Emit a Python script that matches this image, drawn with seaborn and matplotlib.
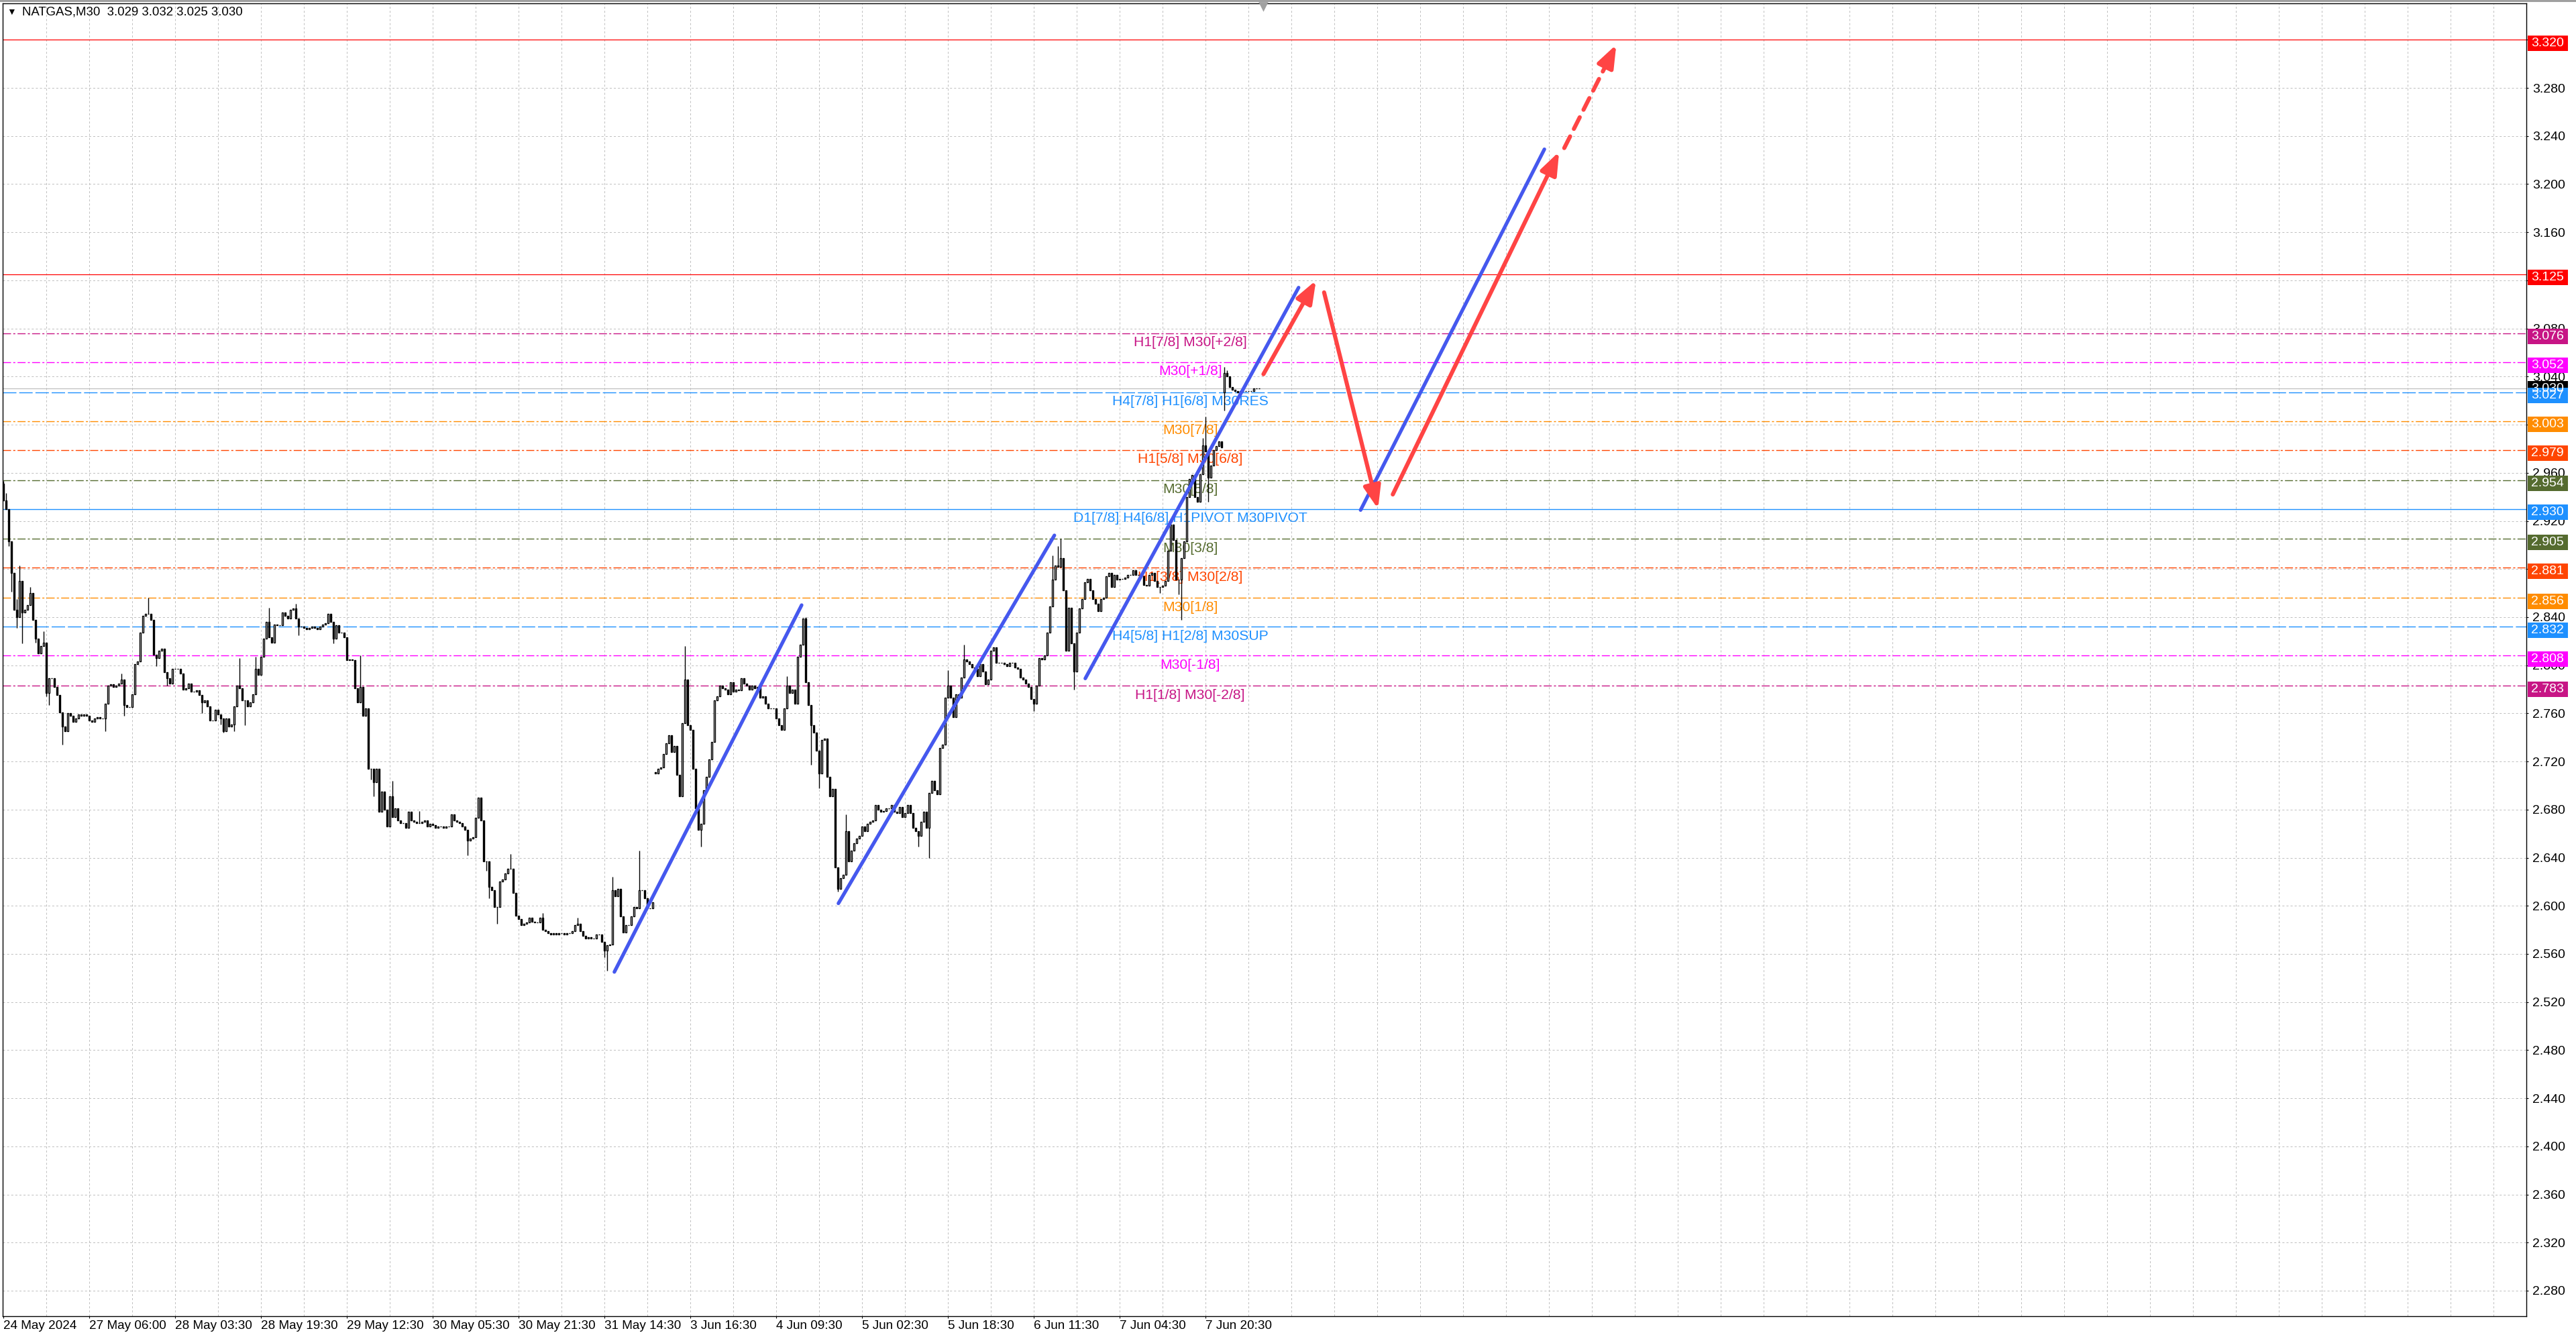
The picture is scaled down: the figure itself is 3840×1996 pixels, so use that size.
import numpy as np
import seaborn as sns
import matplotlib.pyplot as plt
import matplotlib.transforms as mtransforms
from matplotlib.patches import Rectangle

# NATGAS M30 closes, one value per bar (bar 0 = 24 May 2024)
closes = [
    2.937, 2.930, 2.903, 2.877, 2.846, 2.840, 2.870, 2.844, 2.846, 2.850,
    2.860, 2.838, 2.822, 2.810, 2.816, 2.819, 2.777, 2.789, 2.789, 2.782,
    2.775, 2.761, 2.749, 2.745, 2.760, 2.758, 2.753, 2.756, 2.759, 2.758,
    2.759, 2.758, 2.754, 2.753, 2.756, 2.757, 2.756, 2.756, 2.768, 2.783,
    2.784, 2.782, 2.783, 2.785, 2.788, 2.767, 2.765, 2.765, 2.776, 2.801,
    2.803, 2.827, 2.841, 2.843, 2.843, 2.838, 2.809, 2.806, 2.812, 2.814,
    2.794, 2.789, 2.785, 2.797, 2.797, 2.797, 2.793, 2.780, 2.781, 2.785,
    2.778, 2.778, 2.779, 2.775, 2.769, 2.771, 2.766, 2.754, 2.754, 2.763,
    2.759, 2.756, 2.745, 2.756, 2.749, 2.751, 2.766, 2.783, 2.781, 2.771,
    2.771, 2.766, 2.769, 2.776, 2.797, 2.792, 2.807, 2.822, 2.836, 2.823,
    2.819, 2.834, 2.833, 2.833, 2.844, 2.841, 2.839, 2.846, 2.847, 2.839,
    2.832, 2.832, 2.831, 2.830, 2.831, 2.832, 2.831, 2.830, 2.832, 2.834,
    2.835, 2.843, 2.836, 2.822, 2.833, 2.827, 2.827, 2.823, 2.804, 2.805,
    2.804, 2.781, 2.769, 2.782, 2.758, 2.764, 2.714, 2.714, 2.703, 2.714,
    2.678, 2.695, 2.680, 2.666, 2.691, 2.674, 2.681, 2.671, 2.669, 2.669,
    2.665, 2.678, 2.671, 2.670, 2.669, 2.669, 2.670, 2.671, 2.666, 2.668,
    2.667, 2.665, 2.666, 2.666, 2.665, 2.666, 2.666, 2.676, 2.671, 2.670,
    2.669, 2.666, 2.663, 2.654, 2.656, 2.657, 2.673, 2.690, 2.671, 2.637,
    2.637, 2.616, 2.613, 2.599, 2.599, 2.620, 2.622, 2.627, 2.631, 2.631,
    2.611, 2.592, 2.589, 2.584, 2.585, 2.586, 2.590, 2.587, 2.586, 2.586,
    2.590, 2.580, 2.579, 2.577, 2.576, 2.577, 2.576, 2.577, 2.577, 2.576,
    2.577, 2.577, 2.579, 2.584, 2.585, 2.579, 2.575, 2.573, 2.574, 2.573,
    2.573, 2.576, 2.576, 2.570, 2.563, 2.567, 2.568, 2.613, 2.608, 2.614,
    2.591, 2.578, 2.584, 2.584, 2.591, 2.599, 2.598, 2.613, 2.613, 2.606,
    2.598, 2.598, 2.603, 2.710, 2.714, 2.715, 2.726, 2.735, 2.742, 2.728,
    2.733, 2.709, 2.691, 2.752, 2.788, 2.750, 2.746, 2.714, 2.681, 2.663,
    2.668, 2.696, 2.707, 2.722, 2.736, 2.771, 2.774, 2.783, 2.781, 2.780,
    2.776, 2.786, 2.778, 2.780, 2.779, 2.789, 2.785, 2.783, 2.780, 2.783,
    2.781, 2.782, 2.773, 2.774, 2.768, 2.764, 2.764, 2.764, 2.756, 2.750,
    2.746, 2.764, 2.783, 2.777, 2.780, 2.768, 2.807, 2.817, 2.839, 2.786,
    2.767, 2.750, 2.744, 2.729, 2.710, 2.738, 2.739, 2.707, 2.691, 2.697,
    2.632, 2.614, 2.623, 2.626, 2.662, 2.637, 2.646, 2.652, 2.656, 2.658,
    2.666, 2.662, 2.668, 2.670, 2.671, 2.684, 2.680, 2.678, 2.679, 2.681,
    2.681, 2.684, 2.678, 2.677, 2.682, 2.674, 2.677, 2.684, 2.677, 2.665,
    2.662, 2.658, 2.670, 2.678, 2.665, 2.694, 2.704, 2.696, 2.693, 2.731,
    2.734, 2.773, 2.783, 2.773, 2.757, 2.776, 2.773, 2.790, 2.805, 2.803,
    2.801, 2.798, 2.797, 2.791, 2.801, 2.795, 2.784, 2.788, 2.812, 2.815,
    2.802, 2.802, 2.802, 2.801, 2.799, 2.802, 2.802, 2.798, 2.797, 2.790,
    2.788, 2.785, 2.782, 2.772, 2.768, 2.783, 2.806, 2.805, 2.808, 2.827,
    2.849, 2.871, 2.883, 2.882, 2.889, 2.862, 2.812, 2.848, 2.818, 2.795,
    2.827, 2.847, 2.855, 2.869, 2.872, 2.862, 2.855, 2.851, 2.845, 2.855,
    2.856, 2.874, 2.877, 2.865, 2.875, 2.871, 2.872, 2.872, 2.873, 2.875,
    2.875, 2.879, 2.875, 2.875, 2.874, 2.867, 2.866, 2.875, 2.877, 2.870,
    2.865, 2.865, 2.866, 2.870, 2.895, 2.917, 2.904, 2.871, 2.871, 2.889,
    2.903, 2.940, 2.955, 2.958, 2.940, 2.936, 2.959, 2.983, 2.978, 2.956,
    2.966, 2.979, 2.982, 2.986, 2.981, 3.043, 3.040, 3.031, 3.029, 3.028,
    3.027, 3.028, 3.028, 3.028, 3.028, 3.028, 3.030, 3.030, 3.030,
]
first_open = 2.951
gap_opens = {243: 2.711, 455: 3.027}
wick_highs = {0: 2.953, 1: 2.943, 5: 2.855, 6: 2.883, 10: 2.865, 15: 2.828,
              44: 2.793, 54: 2.856, 88: 2.806, 94: 2.807, 99: 2.848, 109: 2.851,
              133: 2.808, 145: 2.704, 155: 2.679, 189: 2.643, 201: 2.594,
              214: 2.590, 227: 2.624, 237: 2.646, 254: 2.816, 292: 2.791,
              299: 2.840, 314: 2.676, 352: 2.796, 358: 2.817, 391: 2.891,
              393: 2.899, 394: 2.905, 447: 2.989, 448: 3.007, 455: 3.048,
              456: 3.045}
wick_lows = {2: 2.899, 3: 2.861, 5: 2.831, 7: 2.818, 12: 2.819, 16: 2.774,
             17: 2.767, 22: 2.734, 38: 2.745, 45: 2.758, 57: 2.799, 61: 2.783,
             74: 2.760, 81: 2.751, 82: 2.744, 86: 2.745, 90: 2.750, 110: 2.825,
             123: 2.818, 137: 2.705, 138: 2.691, 173: 2.642, 180: 2.629,
             181: 2.606, 184: 2.585, 224: 2.557, 225: 2.546, 260: 2.649,
             301: 2.717, 304: 2.698, 311: 2.612, 341: 2.649, 345: 2.640,
             384: 2.762, 399: 2.780, 431: 2.860, 438: 2.859, 439: 2.838,
             449: 2.936, 455: 3.012}

tick_bars = list(range(0, 449, 32))
tick_labels = ["24 May 2024", "27 May 06:00", "28 May 03:30", "28 May 19:30",
               "29 May 12:30", "30 May 05:30", "30 May 21:30", "31 May 14:30",
               "3 Jun 16:30", "4 Jun 09:30", "5 Jun 02:30", "5 Jun 18:30",
               "6 Jun 11:30", "7 Jun 04:30", "7 Jun 20:30"]

# Murrey levels
level_prices = [3.076, 3.052, 3.027, 3.003, 2.979, 2.954, 2.930,
                2.905, 2.881, 2.856, 2.832, 2.808, 2.783]
level_names = ["H1[7/8] M30[+2/8]", "M30[+1/8]", "H4[7/8] H1[6/8] M30RES",
               "M30[7/8]", "H1[5/8] M30[6/8]", "M30[5/8]",
               "D1[7/8] H4[6/8] H1PIVOT M30PIVOT", "M30[3/8]",
               "H1[3/8] M30[2/8]", "M30[1/8]", "H4[5/8] H1[2/8] M30SUP",
               "M30[-1/8]", "H1[1/8] M30[-2/8]"]
level_colors = ["#C71585", "#FF00FF", "#1E90FF", "#FF8C00", "#FF4500", "#556B2F",
                "#1E90FF", "#556B2F", "#FF4500", "#FF8C00", "#1E90FF", "#FF00FF",
                "#C71585"]
level_kinds = ["dd", "dd", "dash", "dd", "dd", "dd", "solid",
               "dd", "dd", "dd", "dash", "dd", "dd"]
target_levels = [3.320, 3.125]
last_price = 3.030
title = "NATGAS,M30  3.029 3.032 3.025 3.030"

# forecast drawings (bar, price)
blue_lines = [((227.7, 2.545), (297.5, 2.850)),
              ((311.2, 2.602), (391.7, 2.908)),
              ((403.2, 2.789), (482.7, 3.114)),
              ((505.8, 2.929), (574.3, 3.229))]
red_arrows = [((469.6, 3.042), (489.2, 3.120)),
              ((492.2, 3.110), (512.3, 2.930)),
              ((517.8, 2.942), (579.8, 3.227))]
red_dashed_arrow = ((581.7, 3.230), (601.1, 3.316))

BLUE = "#4558EE"
RED = "#FF4444"
GRID = "#C0C0C0"

sns.set_theme(style="white")
plt.rcParams["font.family"] = ["Liberation Sans", "DejaVu Sans"]
plt.rcParams["lines.scale_dashes"] = False

W, H = 3840, 1996
fig = plt.figure(figsize=(W / 200, H / 200), dpi=200)
fig.patch.set_facecolor("white")
ax = fig.add_axes([4 / W, 34 / H, (3766 - 4) / W, (1962 - 5) / H])
ax.set_facecolor("white")
ax.set_xlim(-0.25, 940.25)
ax.set_ylim(2.2588, 3.3503)

# grid
yticks = np.round(np.arange(2.28, 3.3201, 0.04), 3)
ax.vlines(range(16, 941, 16), 2.2588, 3.3503, color=GRID, lw=0.36,
          linestyles=[(0, (1.1, 1.1))], zorder=0.5)
ax.hlines(yticks, -0.25, 940.25, color=GRID, lw=0.36,
          linestyles=[(0, (1.1, 1.1))], zorder=0.5)

# levels
styles = {"dd": (0, (4.3, 1.2, 1.1, 1.2)), "dash": (0, (7.2, 1.5)), "solid": "-"}
for p, name, col, kind in zip(level_prices, level_names, level_colors, level_kinds):
    ax.axhline(p, color=col, lw=0.5, linestyle=styles[kind], zorder=1)
    ax.annotate(name, xy=(442.3, p), xytext=(0, -1.6), textcoords="offset points",
                ha="center", va="top", color=col, fontsize=7.6, zorder=1.5)
for p in target_levels:
    ax.axhline(p, color="#FF0000", lw=0.45, zorder=1)
ax.axhline(last_price, color="#C0C0C0", lw=0.45, zorder=1)

# candles
c = np.array(closes)
n = len(c)
bars = np.arange(n)
o = np.r_[first_open, c[:-1]]
for k, v in gap_opens.items():
    o[k] = v
hi = np.maximum(o, c)
lo = np.minimum(o, c)
for k, v in wick_highs.items():
    hi[k] = max(hi[k], v)
for k, v in wick_lows.items():
    lo[k] = min(lo[k], v)
up = c >= o
ax.vlines(bars, lo, hi, color="black", lw=0.5, zorder=3)
ax.bar(bars[up], (c - o)[up], bottom=o[up], width=0.62, color="white",
       edgecolor="black", lw=0.5, zorder=3.2)
ax.bar(bars[~up], (c - o)[~up], bottom=o[~up], width=0.62, color="black",
       edgecolor="black", lw=0.5, zorder=3.2)

# forecast lines and arrows
for (x0, y0), (x1, y1) in blue_lines:
    sns.lineplot(x=[x0, x1], y=[y0, y1], ax=ax, color=BLUE, lw=1.9,
                 solid_capstyle="round", zorder=4)
arrow_style = "-|>,head_length=0.85,head_width=0.32"
for (x0, y0), (x1, y1) in red_arrows:
    ax.annotate("", xy=(x1, y1), xytext=(x0, y0), zorder=5,
                arrowprops=dict(arrowstyle=arrow_style, color=RED, lw=2.2,
                                shrinkA=0, shrinkB=0, capstyle="round"))
(dx0, dy0), (dx1, dy1) = red_dashed_arrow
mx, my = dx0 + 0.8 * (dx1 - dx0), dy0 + 0.8 * (dy1 - dy0)
ax.plot([dx0, mx], [dy0, my], color=RED, lw=2.2, linestyle=(0, (7, 4.5)),
        dash_capstyle="round", zorder=5)
hx, hy = dx0 + 0.88 * (dx1 - dx0), dy0 + 0.88 * (dy1 - dy0)
ax.annotate("", xy=(dx1, dy1), xytext=(hx, hy), zorder=5,
            arrowprops=dict(arrowstyle=arrow_style, color=RED, lw=2.2,
                            shrinkA=0, shrinkB=0))

# axes styling
for s in ax.spines.values():
    s.set_color("black")
    s.set_linewidth(0.5)
ax.yaxis.tick_right()
ax.set_yticks(yticks)
ax.set_yticklabels([f"{v:.3f}" for v in yticks])
ax.tick_params(axis="y", direction="out", length=1.2, width=0.4, pad=2.2,
               labelsize=7, colors="black", right=True, left=False)
ax.set_xticks(tick_bars)
ax.set_xticklabels(tick_labels, ha="left")
ax.tick_params(axis="x", direction="out", length=1.2, width=0.4, pad=1.0,
               labelsize=6.8, colors="black", bottom=True)
ax.set_xlabel("")
ax.set_ylabel("")

# price boxes on the right scale
blend = mtransforms.blended_transform_factory(ax.transAxes, ax.transData)
box_w = 60 / 3762
box_h = 23 / 1793
shift = 5 / 1793
boxes = [(p, "#FF0000", shift) for p in target_levels]
boxes += [(last_price, "black", 0.0)]
boxes += [(p, col, shift) for p, col in zip(level_prices, level_colors)]
for p, col, s in boxes:
    yc = p - s
    ax.add_patch(Rectangle((1 + 1.7 / 3762, yc - box_h / 2), box_w, box_h,
                           transform=blend, facecolor=col, edgecolor="none",
                           clip_on=False, zorder=6))
    ax.text(1 + 1.7 / 3762 + box_w / 2, yc, f"{p:.3f}", transform=blend,
            ha="center", va="center", color="white", fontsize=7,
            clip_on=False, zorder=7)

# header
fig.patches.append(Rectangle((0, 1 - 3 / H), 1, 3 / H, transform=fig.transFigure,
                             facecolor="#A0A0A0", edgecolor="none"))
fig.text(10 / W, 1 - 18 / H, "\u25bc", fontsize=5, va="center", ha="left",
         color="black")
fig.text(33 / W, 1 - 18 / H, title, fontsize=6.7, va="center", ha="left",
         color="black")
ax.plot([469.5], [1 - 4 / 1957], marker="v", markersize=3.5, color="#A0A0A0",
        transform=mtransforms.blended_transform_factory(ax.transData, ax.transAxes),
        clip_on=False, zorder=6)

fig.savefig("out.png", dpi=200)
